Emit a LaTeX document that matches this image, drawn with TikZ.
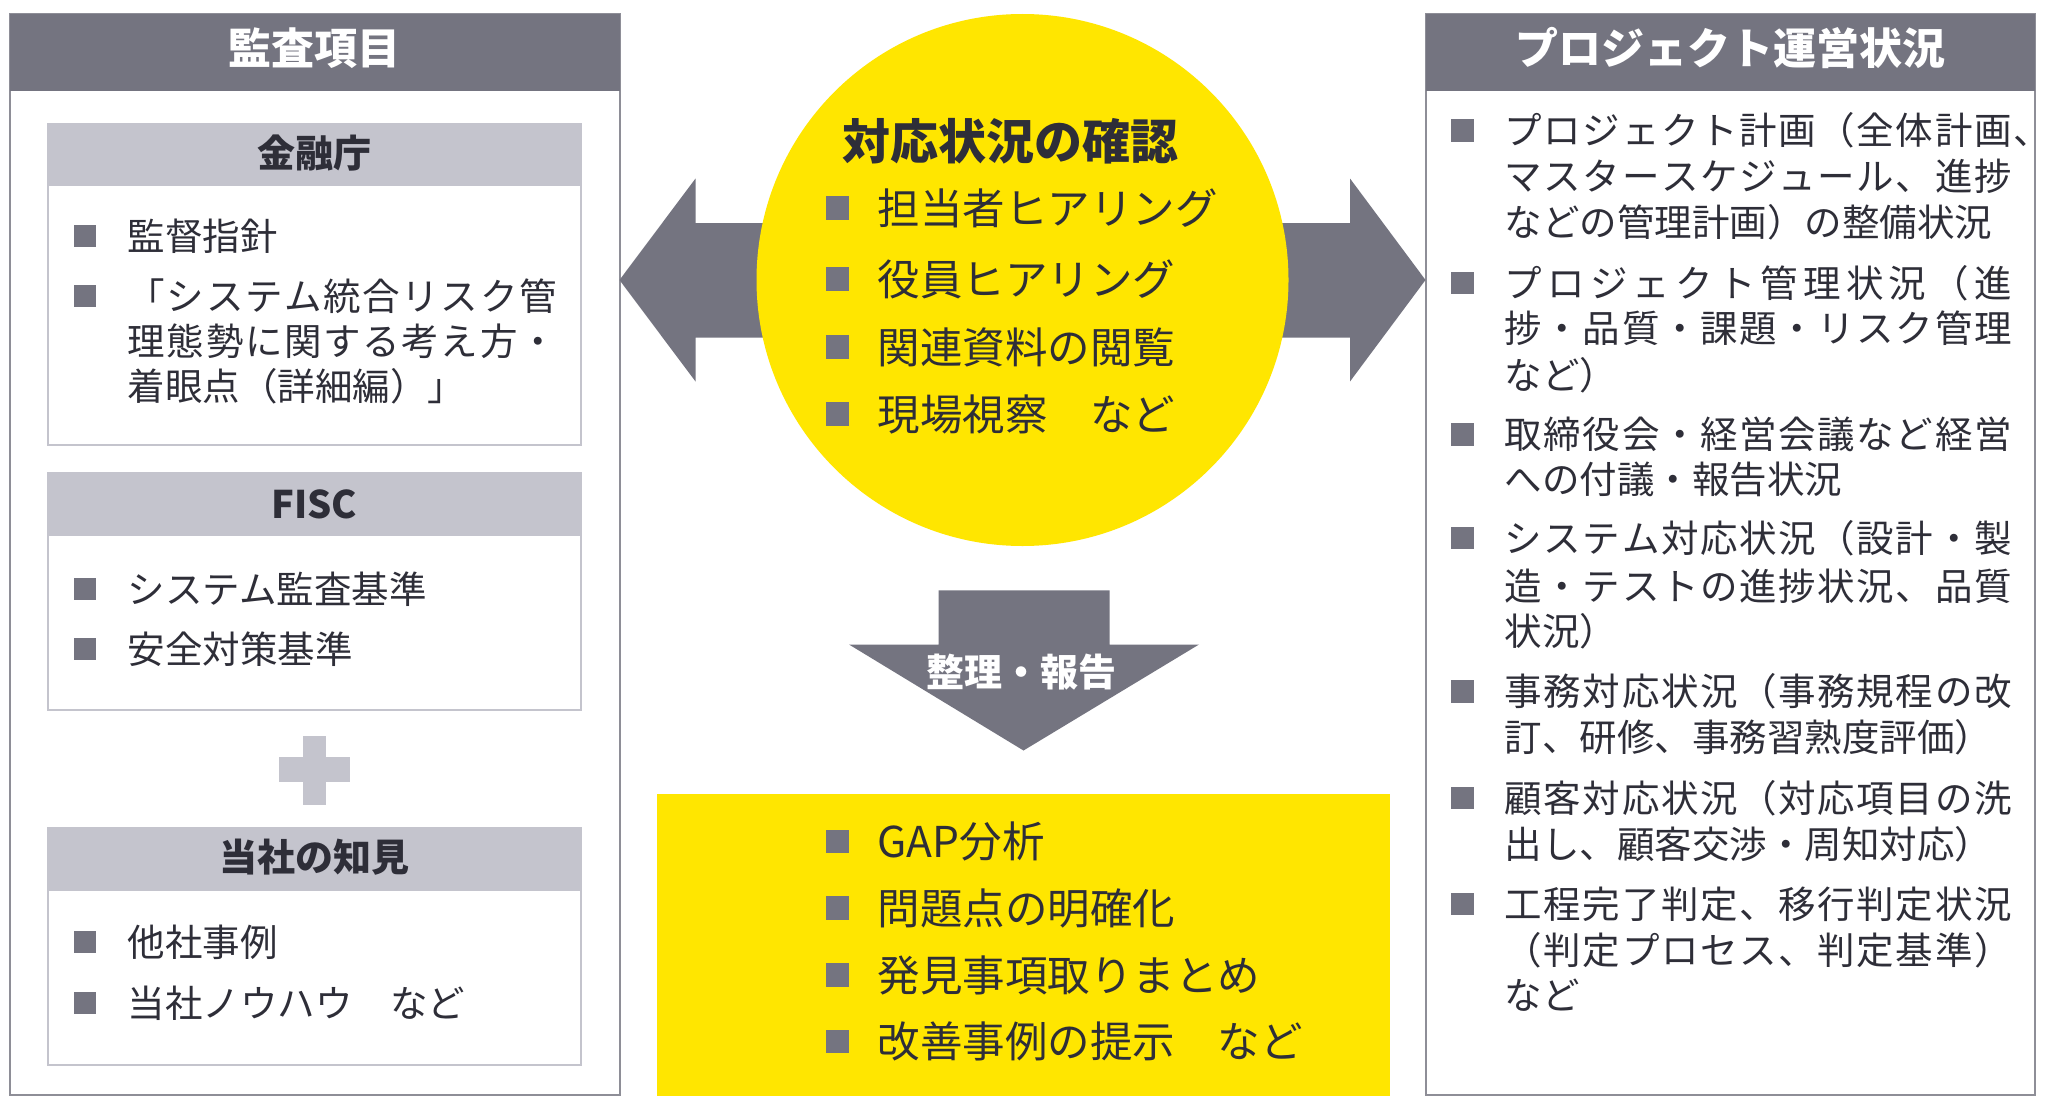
\documentclass[tikz,border=0pt]{standalone}
\usepackage{fontspec}
\setmainfont{Noto Sans CJK JP}
\usetikzlibrary{calc}
\definecolor{eydark}{HTML}{747480}
\definecolor{eylight}{HTML}{C4C4CD}
\definecolor{eyborder}{HTML}{8E8E97}
\definecolor{eytext}{HTML}{2E2E38}
\definecolor{eyyellow}{HTML}{FFE600}
\ExplSyntaxOn
\NewDocumentCommand\spreadline{mm}{\hbox to #1{\tl_map_inline:nn{#2}{##1\hfil}\unskip}}
\ExplSyntaxOff
\begin{document}
\begin{tikzpicture}[x=1pt,y=-1pt,
  obox/.style={draw=eyborder,line width=2pt,fill=white,inner sep=0pt,outer sep=0pt,anchor=north west},
  ibox/.style={draw=eylight,line width=2pt,fill=white,inner sep=0pt,outer sep=0pt,anchor=north west},
  hband/.style={fill=eydark,inner sep=0pt,outer sep=0pt,anchor=north west},
  sband/.style={fill=eylight,inner sep=0pt,outer sep=0pt,anchor=north west},
  bulsq/.style={fill=eydark,inner sep=0pt,outer sep=0pt,minimum width=#1,minimum height=#1},
  tsmall/.style={font=\fontsize{37.5pt}{45pt}\selectfont,text=eytext,inner sep=0pt,anchor=base west},
  tlarge/.style={font=\fontsize{42.5pt}{50pt}\selectfont,text=eytext,inner sep=0pt,anchor=base west},
  hdr/.style={font=\bfseries\fontsize{43pt}{50pt}\selectfont,text=white,inner sep=0pt,anchor=base},
  shdr/.style={font=\bfseries\fontsize{38pt}{45pt}\selectfont,text=eytext,inner sep=0pt,anchor=base}
]
\useasboundingbox (0,0) rectangle (2048,1108);
\fill[white] (0,0) rectangle (2048,1108);

% ---------- left panel ----------
\node[obox,minimum width=610pt,minimum height=1081pt] (lbox) at (9.5,14) {};
\node[hband,minimum width=610pt,minimum height=77pt] (lhead) at (9.5,14) {};
\node[hdr] (ltitle) at (314,64.3) {監査項目};

\node[ibox,minimum width=533pt,minimum height=320.5pt] (fsa) at (48,124) {};
\node[sband,minimum width=533pt,minimum height=62pt] (fsah) at (48,124) {};
\node[shdr] (fsat) at (314,167.4) {金融庁};

\node[ibox,minimum width=533pt,minimum height=237pt] (fisc) at (48,473) {};
\node[sband,minimum width=533pt,minimum height=62.5pt] (fisch) at (48,473) {};
\node[shdr] (fisct) at (314,518.4) {FISC};

\fill[eylight] (303,735.5) rectangle (326,805);
\fill[eylight] (279,757) rectangle (350,781.5);

\node[ibox,minimum width=533pt,minimum height=237pt] (own) at (48,828) {};
\node[sband,minimum width=533pt,minimum height=62.5pt] (ownh) at (48,828) {};
\node[shdr] (ownt) at (314,871.4) {当社の知見};

\foreach \yy/\lab [count=\i] in {236/監督指針,
  296/{\spreadline{429pt}{「システム統合リスク管}},
  341/{\spreadline{429pt}{理態勢に関する考え方・}},
  386/着眼点（詳細編）」,
  589/システム監査基準,
  649/安全対策基準,
  942/他社事例,
  1003/当社ノウハウ　など}
  {\node[tsmall] (lt\i) at (127.5,\yy+14.25) {\lab};}
\foreach \yy [count=\i] in {236,296,589,649,942,1003}
  {\node[bulsq=21.5pt] (lb\i) at (84.75,\yy) {};}

% ---------- right panel ----------
\node[obox,minimum width=609.5pt,minimum height=1081pt] (rbox) at (1425.5,14) {};
\node[hband,minimum width=609.5pt,minimum height=77pt] (rhead) at (1425.5,14) {};
\node[hdr] (rtitle) at (1730,64.3) {プロジェクト運営状況};

\foreach \yy/\lab [count=\i] in {
  130.3/{\spreadline{507pt}{プロジェクト計画（全体計画}\hspace{1.6pt}、},
  176.6/{\spreadline{507pt}{マスタースケジュール、進捗}},
  222.5/などの管理計画）の整備状況,
  283/{\spreadline{507pt}{プロジェクト管理状況（進}},
  328/{\spreadline{507pt}{捗・品質・課題・リスク管理}},
  375/など）,
  434.5/{\spreadline{507pt}{取締役会・経営会議など経営}},
  479.6/への付議・報告状況,
  538/{\spreadline{507pt}{システム対応状況（設計・製}},
  586/{\spreadline{507pt}{造・テストの進捗状況、品質}},
  631.5/状況）,
  691.5/{\spreadline{507pt}{事務対応状況（事務規程の改}},
  737/訂、研修、事務習熟度評価）,
  798/{\spreadline{507pt}{顧客対応状況（対応項目の洗}},
  844/出し、顧客交渉・周知対応）,
  904/{\spreadline{507pt}{工程完了判定、移行判定状況}},
  950/{\spreadline{507pt}{（判定プロセス、判定基準）}},
  995.5/など}
  {\node[tsmall] (rt\i) at (1504.5,\yy+14.25) {\lab};}
\foreach \yy [count=\i] in {130.3,283,434.5,538,691.5,798,904}
  {\node[bulsq=22.5pt] (rb\i) at (1462.25,\yy) {};}

% ---------- centre ----------
\coordinate (circc) at (1022.5,280);
\coordinate (la) at (lbox.east |- circc);
\coordinate (ra) at (rbox.west |- circc);
\fill[eydark] (la) -- ($(la)+(76,-101.5)$) -- ($(la)+(76,-57)$) -- ($(ra)+(-75.5,-57)$)
  -- ($(ra)+(-75.5,-101.5)$) -- (ra) -- ($(ra)+(-75.5,101.5)$) -- ($(ra)+(-75.5,57.5)$)
  -- ($(la)+(76,57.5)$) -- ($(la)+(76,101.5)$) -- cycle;

\node[circle,fill=eyyellow,minimum size=532pt,inner sep=0pt,outer sep=0pt] (circ) at (circc) {};
\node[font=\bfseries\fontsize{48pt}{55pt}\selectfont,text=eytext,inner sep=0pt,anchor=base] (ctitle) at (1010.5,159.2) {対応状況の確認};
\foreach \yy/\lab [count=\i] in {208/担当者ヒアリング,279/役員ヒアリング,347/関連資料の閲覧,414/現場視察　など}
  {\node[tlarge] (ct\i) at (877.5,\yy+16.15) {\lab};
   \node[bulsq=23.5pt] (cb\i) at (837.5,\yy) {};}

\node[fill=eyyellow,inner sep=0pt,outer sep=0pt,anchor=north west,minimum width=733pt,minimum height=301.5pt] (ybox) at (657,794) {};
\coordinate (dtip) at ($(ybox.north)+(0,-43.5)$);
\fill[eydark] (dtip) -- ++(175.5,-106) -- ++(-89.5,0) -- ++(0,-54.2) -- ++(-171,0)
  -- ++(0,54.2) -- ++(-89.5,0) -- cycle;
\node[font=\bfseries\fontsize{38pt}{45pt}\selectfont,text=white,inner sep=0pt,anchor=base] (dlab) at (1021,686.4) {整理・報告};

\foreach \yy/\lab [count=\i] in {841.7/GAP分析,908/問題点の明確化,975/発見事項取りまとめ,1041.7/改善事例の提示　など}
  {\node[tlarge] (yt\i) at (877.5,\yy+16.15) {\lab};
   \node[bulsq=23.5pt] (yb\i) at (837.5,\yy) {};}
\end{tikzpicture}
\end{document}
